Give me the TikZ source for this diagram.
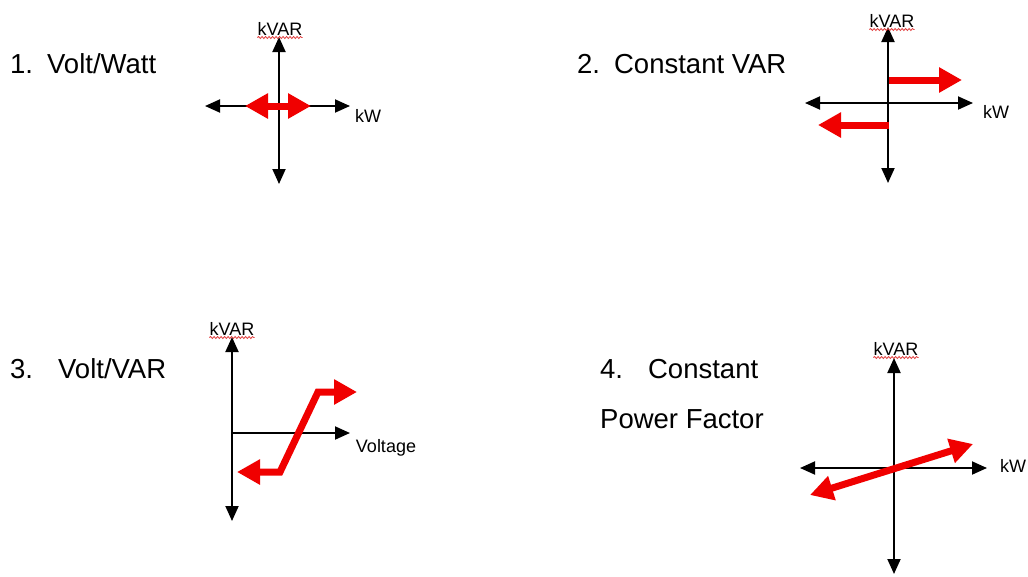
\documentclass[tikz,border=0pt]{standalone}
\usepackage{fontspec}
\setmainfont{Liberation Sans}
\usetikzlibrary{arrows.meta,decorations.pathmorphing}
\definecolor{arrred}{RGB}{240,0,0}
\definecolor{squig}{RGB}{225,60,60}
\tikzset{
  axis/.style={line width=1.9pt,black,{Triangle[length=15pt,width=13pt]}-{Triangle[length=15pt,width=13pt]}},
  axisone/.style={line width=1.9pt,black,-{Triangle[length=15pt,width=13pt]}},
  redboth/.style={line width=7pt,arrred,line join=miter,{Triangle[length=23pt,width=24pt]}-{Triangle[length=23pt,width=24pt]}},
  redone/.style={line width=7pt,arrred,-{Triangle[length=23pt,width=24pt]}},
  title/.style={anchor=base west,inner sep=0pt,font=\fontsize{27.5}{32}\selectfont},
  axlabel/.style={anchor=base,inner sep=0pt,font=\fontsize{18}{21}\selectfont},
  squiggle/.style={squig,line width=0.8pt,decorate,decoration={snake,amplitude=1pt,segment length=3.5pt}}
}
\newcommand{\squigunder}[1]{\draw[squiggle] ([yshift=-2.5pt]#1.base west) -- ([yshift=-2.5pt]#1.base east);}
\begin{document}
\begin{tikzpicture}[x=1pt,y=-1pt]
\fill[white] (0,0) rectangle (1028,576);
\useasboundingbox (0,0) rectangle (1028,576);

% titles
\node[title] (t1) at (10,73) {1.\hspace{14pt}Volt/Watt};
\node[title] (t2) at (577,73) {2.\hspace{14pt}Constant VAR};
\node[title] (t3) at (10,378) {3.\hspace{25pt}Volt/VAR};
\node[title] (t4) at (600,378) {4.\hspace{25pt}Constant};
\node[title] (t4b) at (600,428) {Power Factor};

% ---------- panel 1
\coordinate (p1t) at (279,37);
\coordinate (p1b) at (279,184);
\coordinate (p1l) at (205,106);
\coordinate (p1r) at (350,106);
\draw[axis] (p1l) -- (p1r);
\draw[axis] (p1b) -- (p1t);
\coordinate (r1a) at (245,106);
\coordinate (r1b) at (311,106);
\draw[redboth] (r1a) -- (r1b);
\node[axlabel] (k1) at (280,35) {kVAR};
\squigunder{k1}
\node[axlabel] (w1) at (368,122) {kW};

% ---------- panel 2
\coordinate (p2t) at (888,27);
\coordinate (p2b) at (888,183);
\coordinate (p2l) at (805,103);
\coordinate (p2r) at (973,103);
\draw[axis] (p2l) -- (p2r);
\draw[axis] (p2b) -- (p2t);
\coordinate (r2a) at (889,80);
\coordinate (r2b) at (962,80);
\draw[redone] (r2a) -- (r2b);
\coordinate (r2c) at (889,125);
\coordinate (r2d) at (818,125);
\draw[redone] (r2c) -- (r2d);
\node[axlabel] (k2) at (892,27) {kVAR};
\squigunder{k2}
\node[axlabel] (w2) at (996,118) {kW};

% ---------- panel 3
\coordinate (p3t) at (232,337);
\coordinate (p3b) at (232,521);
\coordinate (p3o) at (232,433);
\coordinate (p3r) at (350,433);
\draw[axis] (p3b) -- (p3t);
\draw[axisone] (p3o) -- (p3r);
\coordinate (r3a) at (237,472);
\coordinate (r3b) at (280,472);
\coordinate (r3c) at (318,392);
\coordinate (r3d) at (357,392);
\draw[redboth] (r3a) -- (r3b) -- (r3c) -- (r3d);
\node[axlabel] (k3) at (232,335) {kVAR};
\squigunder{k3}
\node[axlabel] (w3) at (386,452) {Voltage};

% ---------- panel 4
\coordinate (p4t) at (894,358);
\coordinate (p4b) at (894,574);
\coordinate (p4l) at (800,468);
\coordinate (p4r) at (987,468);
\draw[axis] (p4l) -- (p4r);
\draw[axis] (p4b) -- (p4t);
\coordinate (r4a) at (810,495);
\coordinate (r4b) at (973,444);
\draw[redboth] (r4a) -- (r4b);
\node[axlabel] (k4) at (896,355) {kVAR};
\squigunder{k4}
\node[axlabel] (w4) at (1013,472) {kW};
\end{tikzpicture}
\end{document}
